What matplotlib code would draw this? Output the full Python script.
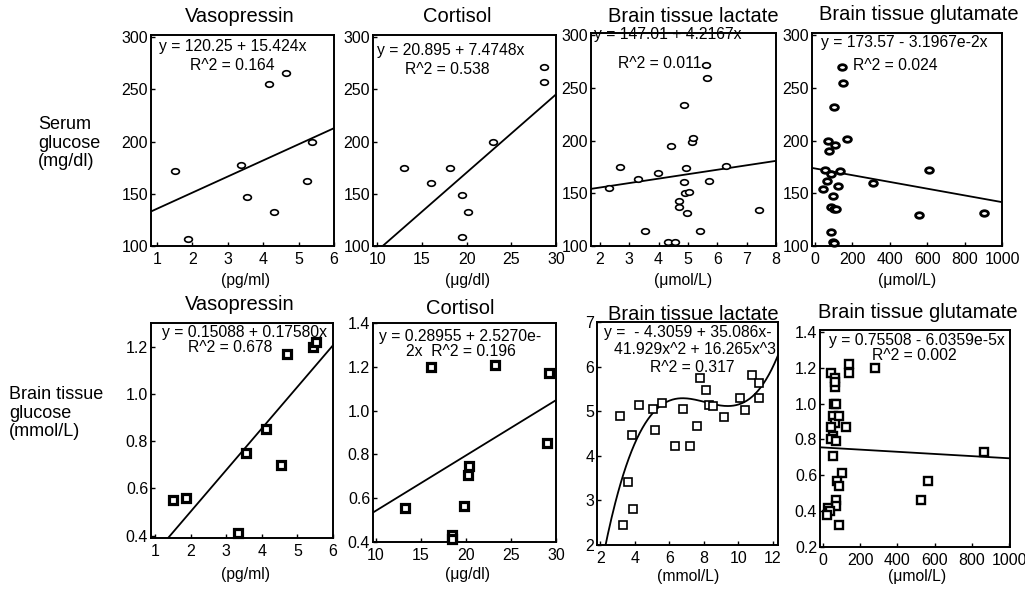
import matplotlib
matplotlib.use('Agg')
import matplotlib.pyplot as plt
import numpy as np
from matplotlib.path import Path
from matplotlib.transforms import Affine2D

plt.rcParams['font.family'] = ['Liberation Sans', 'DejaVu Sans']

# ---- data ----
# top row: serum glucose (mg/dl)
vaso_x = [1.5, 1.87, 3.38, 3.54, 4.15, 4.31, 4.64, 5.24, 5.38]
vaso_sg = [172, 107, 178, 147, 255, 133, 266, 162, 200]

cort_x = [13.0, 15.96, 18.07, 19.44, 20.1, 19.44, 22.9, 28.67, 28.67]
cort_sg = [175, 160, 175, 149, 133, 109, 200, 271, 257]

lact_x = [2.3, 2.68, 3.3, 3.55, 3.97, 4.33, 4.56, 4.42, 4.85, 4.85, 4.7, 4.68,
          4.91, 5.04, 4.95, 4.98, 5.13, 5.17, 5.4, 5.6, 5.66, 5.72, 6.3, 7.43]
lact_sg = [155, 175, 164, 114, 169, 104, 104, 195, 234, 161, 143, 137,
           150, 151, 174, 131, 199, 202, 114, 272, 259, 162, 176, 134]

glut_x = [143, 152, 104, 68, 107, 170, 77, 57, 63, 45, 89, 134,
          125, 98, 89, 104, 111, 84, 95, 104, 312, 554, 611, 902]
glut_sg = [270, 255, 232, 200, 196, 201, 190, 172, 162, 154, 168, 171,
           157, 147, 137, 135, 135, 113, 104, 103, 160, 129, 172, 131]

# bottom row: brain tissue glucose (mmol/L)
vaso2_x = [1.49, 1.87, 3.32, 3.54, 4.12, 4.55, 4.70, 5.44, 5.52]
vaso2_bg = [0.55, 0.56, 0.41, 0.75, 0.85, 0.70, 1.17, 1.20, 1.22]

cort2_x = [13.2, 16.15, 18.5, 18.5, 19.8, 20.26, 20.38, 23.2, 29.2, 29.05]
cort2_bg = [0.553, 1.20, 0.43, 0.415, 0.565, 0.708, 0.747, 1.206, 1.17, 0.853]

lact2_x = [3.12, 3.31, 3.60, 3.88, 3.83, 4.21, 5.02, 5.17, 5.56, 6.33, 6.81, 7.19,
           7.62, 7.77, 8.10, 8.31, 8.54, 9.17, 10.08, 10.40, 10.81, 11.17, 11.17]
lact2_bg = [4.89, 2.44, 3.42, 2.81, 4.47, 5.13, 5.04, 4.57, 5.19, 4.21, 5.04, 4.21,
            4.66, 5.74, 5.48, 5.13, 5.11, 4.87, 5.29, 5.02, 5.82, 5.63, 5.30]

glut2_x = [45, 63, 63, 68, 59, 71, 54, 63, 89, 45, 54, 45, 71, 54, 125, 139, 139,
           282, 104, 75, 89, 71, 71, 27, 36, 23, 89, 527, 566, 866]
glut2_bg = [1.17, 1.14, 1.09, 1.12, 1.00, 1.00, 0.93, 0.89, 0.93, 0.87, 0.82, 0.80,
            0.79, 0.71, 0.87, 1.22, 1.17, 1.20, 0.61, 0.57, 0.54, 0.46, 0.43,
            0.42, 0.40, 0.38, 0.32, 0.46, 0.57, 0.73]

# regression coefficients printed in the panels
vaso_fit = (120.25, 15.424)
cort_fit = (20.895, 7.4748)
lact_fit = (147.01, 4.2167)
glut_fit = (173.57, -3.1967e-2)
vaso2_fit = (0.15088, 0.17580)
cort2_fit = (0.28955, 2.5270e-2)
lact2_fit = (-4.3059, 35.086, -41.929, 16.265)
glut2_fit = (0.75508, -6.0359e-5)

W, H = 1025, 590
fig = plt.figure(figsize=(W / 100, H / 100), dpi=100)


def box(l, t, r, b):
    return [l / W, 1 - b / H, (r - l) / W, (b - t) / H]


def txt(x, y, s, size=11.3, ha='center'):
    fig.text(x / W, 1 - y / H, s, fontsize=size, ha=ha, va='center')


# ellipse marker like a typed "o"
ellipse = Path.unit_circle().transformed(Affine2D().scale(1.4, 1.0))


def panel(rect, x, y, xlim, ylim, xticks, yticks, marker, mew, ms, fmt=None):
    ax = fig.add_axes(box(*rect))
    ax.plot(x, y, linestyle='none', marker=marker, mfc='white', mec='black',
            mew=mew, ms=ms, zorder=3, clip_on=False)
    ax.set_xlim(xlim)
    ax.set_ylim(ylim)
    ax.set_xticks(xticks)
    ax.set_yticks(yticks)
    if fmt:
        ax.set_yticklabels([fmt % v for v in yticks])
    ax.tick_params(direction='in', length=3, width=1, labelsize=11.5)
    ax.tick_params(axis='x', pad=4.5)
    ax.tick_params(axis='y', pad=2)
    for s in ax.spines.values():
        s.set_linewidth(1.4)
    return ax


def fitline(ax, coef, scale=1.0):
    xs = np.linspace(*ax.get_xlim(), 200)
    u = xs / scale
    ys = sum(c * u ** i for i, c in enumerate(coef))
    ax.plot(xs, ys, color='black', lw=1.3, zorder=2)


# ---- top row ----
ax1 = panel((151, 35, 334, 246), vaso_x, vaso_sg, (0.83, 6), (100, 302),
            range(1, 7), range(100, 301, 50), ellipse, 1.2, 5.6)
fitline(ax1, vaso_fit)
ax2 = panel((373, 35, 556, 246), cort_x, cort_sg, (9.5, 29.8), (100, 302),
            range(10, 31, 5), range(100, 301, 50), ellipse, 1.2, 5.6)
fitline(ax2, cort_fit)
ax3 = panel((591, 33, 776, 246), lact_x, lact_sg, (1.7, 8.0), (100, 302),
            range(2, 9), range(100, 301, 50), ellipse, 1.2, 5.6)
fitline(ax3, lact_fit)
ax4 = panel((812, 33, 1002, 246), glut_x, glut_sg, (-15, 1000), (100, 302),
            range(0, 1001, 200), range(100, 301, 50), ellipse, 2.0, 5.6)
fitline(ax4, glut_fit)

# ---- bottom row ----
ax5 = panel((151, 323, 333, 538), vaso2_x, vaso2_bg, (0.88, 6), (0.39, 1.3),
            range(1, 7), [0.4, 0.6, 0.8, 1.0, 1.2], 's', 2.3, 5.8, '%.1f')
fitline(ax5, vaso2_fit)
ax6 = panel((373, 323, 556, 542), cort2_x, cort2_bg, (9.7, 30), (0.4, 1.4),
            range(10, 31, 5), [0.4, 0.6, 0.8, 1.0, 1.2, 1.4], 's', 2.3, 5.8, '%.1f')
fitline(ax6, cort2_fit)
ax7 = panel((597, 322, 778, 545), lact2_x, lact2_bg, (1.8, 12.3), (2, 7),
            range(2, 13, 2), range(2, 8), 's', 1.2, 5.8)
fitline(ax7, lact2_fit, scale=9.4)  # cubic was fitted on rescaled x
ax8 = panel((820, 330, 1010, 547), glut2_x, glut2_bg, (-15, 1005), (0.2, 1.41),
            range(0, 1001, 200), [0.2, 0.4, 0.6, 0.8, 1.0, 1.2, 1.4], 's', 1.7, 5.8, '%.1f')
fitline(ax8, glut2_fit)

# titles
for x, y, s in [(240, 17, 'Vasopressin'), (457, 16, 'Cortisol'),
                (693, 16, 'Brain tissue lactate'), (919, 15, 'Brain tissue glutamate'),
                (240, 305, 'Vasopressin'), (460, 308, 'Cortisol'),
                (693, 314, 'Brain tissue lactate'), (918, 313, 'Brain tissue glutamate')]:
    txt(x, y, s, size=14.5)

# equations
for x, y, s in [(233, 47, 'y = 120.25 + 15.424x'), (232, 65, 'R^2 = 0.164'),
                (451, 50, 'y = 20.895 + 7.4748x'), (447, 70, 'R^2 = 0.538'),
                (668, 34, 'y = 147.01 + 4.2167x'), (660, 63, 'R^2 = 0.011'),
                (904, 43, 'y = 173.57 - 3.1967e-2x'), (895, 65, 'R^2 = 0.024'),
                (245, 332, 'y = 0.15088 + 0.17580x'), (230, 348, 'R^2 = 0.678'),
                (460, 337, 'y = 0.28955 + 2.5270e-'), (461, 352, '2x  R^2 = 0.196'),
                (688, 333, 'y =  - 4.3059 + 35.086x-'), (695, 350, '41.929x^2 + 16.265x^3'),
                (692, 367, 'R^2 = 0.317'),
                (917, 340, 'y = 0.75508 - 6.0359e-5x'), (914, 355, 'R^2 = 0.002')]:
    txt(x, y, s)

# x labels
for x, y, s in [(245, 280, '(pg/ml)'), (468, 280, '(μg/dl)'),
                (683, 280, '(μmol/L)'), (907, 280, '(μmol/L)'),
                (246, 574, '(pg/ml)'), (467, 574, '(μg/dl)'),
                (688, 576, '(mmol/L)'), (917, 576, '(μmol/L)')]:
    txt(x, y, s)

# row labels
fig.text(38 / W, 1 - 143 / H, 'Serum\nglucose\n(mg/dl)', fontsize=13,
         ha='left', va='center', linespacing=1.15)
fig.text(9 / W, 1 - 413 / H, 'Brain tissue\nglucose\n(mmol/L)', fontsize=13,
         ha='left', va='center', linespacing=1.15)

fig.savefig('out.png', dpi=100)
